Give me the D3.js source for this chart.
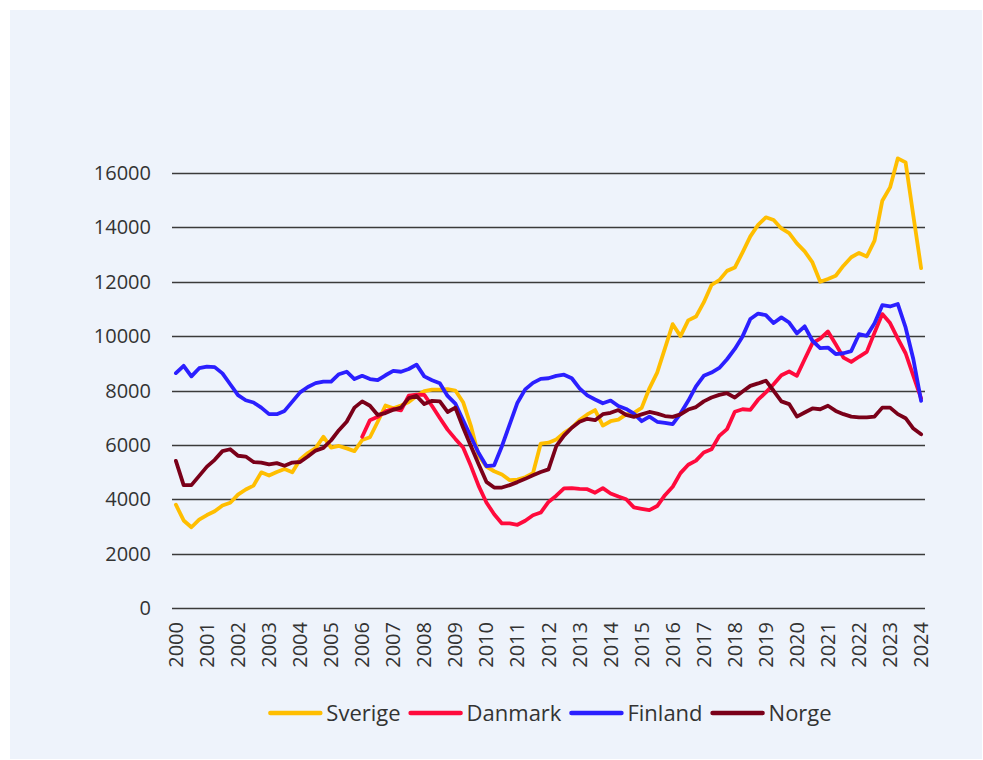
<!DOCTYPE html>
<html>
<head>
<meta charset="utf-8">
<script src="https://cdn.jsdelivr.net/npm/d3@7"></script>
<style>
body { margin: 0; background: #ffffff; }
svg text { font-family: "Open Sans", sans-serif; fill: #333333; }
</style>
</head>
<body>
<div id="chart"></div>
<script>
var svgWidth = 983;
var svgHeight = 760;

// quarterly, 2000Q1 .. 2024Q1
var yearLabels = ["2000","2001","2002","2003","2004","2005","2006","2007","2008","2009","2010","2011","2012",
	"2013","2014","2015","2016","2017","2018","2019","2020","2021","2022","2023","2024"]
var yTicks = [0, 2000, 4000, 6000, 8000, 10000, 12000, 14000, 16000]
var seriesNames = ["Sverige", "Danmark", "Finland", "Norge"]
var seriesColors = ["#ffbe00", "#ff0a3c", "#2b1fff", "#7a0019"]

var sverige = [3800,3220,2970,3250,3420,3560,3770,3870,4170,4360,
	4500,4990,4870,5000,5110,4990,5460,5700,5880,6300,
	5900,5960,5870,5770,6180,6280,6850,7450,7350,7450,
	7580,7800,7980,8030,8030,8050,8000,7570,6700,5600,
	5200,5030,4910,4700,4720,4810,4960,6050,6080,6200,
	6440,6630,6910,7120,7280,6710,6870,6930,7120,7180,
	7360,8080,8660,9550,10440,10000,10580,10720,11240,11880,
	12060,12400,12520,13080,13670,14090,14370,14270,13960,13790,
	13410,13120,12710,12000,12100,12220,12590,12900,13060,12930,
	13510,14980,15470,16540,16390,14430,12500]
var danmark = [null,null,null,null,null,null,null,null,null,null,
	null,null,null,null,null,null,null,null,null,null,
	null,null,null,null,6300,6910,7030,7230,7320,7270,
	7810,7850,7840,7430,6990,6560,6220,5900,5230,4490,
	3880,3450,3110,3110,3060,3210,3410,3510,3900,4130,
	4400,4410,4380,4370,4240,4410,4210,4100,4000,3700,
	3650,3600,3750,4150,4460,4960,5270,5420,5720,5840,
	6330,6580,7220,7310,7290,7660,7930,8230,8560,8700,
	8540,9150,9740,9910,10170,9700,9210,9050,9240,9420,
	10130,10810,10480,9910,9370,8540,7710]
var finland = [8640,8910,8520,8820,8880,8860,8630,8230,7830,7640,
	7560,7370,7130,7130,7250,7590,7930,8130,8270,8330,
	8330,8600,8690,8420,8540,8420,8380,8560,8720,8690,
	8790,8950,8520,8380,8270,7800,7520,6900,6300,5700,
	5220,5250,5950,6750,7550,8040,8280,8430,8450,8540,
	8580,8450,8080,7820,7670,7530,7630,7430,7320,7150,
	6870,7040,6850,6810,6760,7150,7620,8150,8540,8660,
	8830,9150,9530,9990,10630,10830,10770,10480,10690,10500,
	10100,10360,9830,9560,9580,9340,9370,9450,10070,10010,
	10470,11140,11090,11180,10320,9150,7620]
var norge = [5410,4520,4520,4860,5200,5450,5770,5840,5600,5570,
	5370,5350,5280,5330,5230,5350,5370,5570,5790,5890,
	6170,6540,6850,7370,7600,7440,7100,7170,7290,7370,
	7720,7800,7500,7620,7600,7210,7370,6640,5960,5290,
	4640,4430,4430,4520,4630,4750,4880,5000,5100,5950,
	6340,6630,6850,6960,6910,7130,7180,7280,7100,7030,
	7120,7210,7150,7060,7030,7120,7300,7390,7600,7740,
	7840,7900,7740,7960,8170,8260,8360,7990,7600,7500,
	7040,7190,7340,7310,7440,7250,7130,7040,7010,7010,
	7040,7370,7370,7130,6980,6600,6390]

var allSeries = [sverige, danmark, finland, norge]

var plotLeft = 172
var plotRight = 925
var plotTop = 173
var plotBottom = 608

var svg = d3.select("#chart")
	.append("svg")
	.attr("width", svgWidth)
	.attr("height", svgHeight)

svg.append("rect")
	.attr("x", 10)
	.attr("y", 10)
	.attr("width", 972)
	.attr("height", 749)
	.attr("fill", "#eef3fb")

var nPoints = sverige.length
var step = (plotRight - plotLeft) / nPoints
var x = d3.scaleLinear()
	.domain([0, nPoints - 1])
	.range([plotLeft + step / 2, plotRight - step / 2])

var y = d3.scaleLinear()
	.domain([0, 16000])
	.range([plotBottom, plotTop])

// gridlines
svg.append("g")
	.selectAll("line")
	.data(yTicks)
	.enter()
	.append("line")
	.attr("x1", plotLeft)
	.attr("x2", plotRight)
	.attr("y1", function(d){return Math.round(y(d)) + 0.5})
	.attr("y2", function(d){return Math.round(y(d)) + 0.5})
	.attr("stroke", "#3a3a3a")
	.attr("stroke-width", 1.3)

// y labels
svg.append("g")
	.selectAll("text")
	.data(yTicks)
	.enter()
	.append("text")
	.attr("x", 151)
	.attr("y", function(d){return y(d)})
	.attr("dy", "0.35em")
	.attr("text-anchor", "end")
	.style("font-size", "20px")
	.text(function(d){return d})

// x labels, one per year (every 4th quarter)
svg.append("g")
	.selectAll("text")
	.data(yearLabels)
	.enter()
	.append("text")
	.attr("transform", function(d, i){return "translate(" + x(i * 4) + ",622) rotate(-90)"})
	.attr("dy", "0.35em")
	.attr("text-anchor", "end")
	.style("font-size", "20px")
	.text(function(d){return d})

var line = d3.line()
	.defined(function(d){return d != null})
	.x(function(d, i){return x(i)})
	.y(function(d){return y(d)})

svg.append("g")
	.selectAll("path")
	.data(allSeries)
	.enter()
	.append("path")
	.attr("d", line)
	.attr("fill", "none")
	.attr("stroke", function(d, i){return seriesColors[i]})
	.attr("stroke-width", 3.8)
	.attr("stroke-linejoin", "round")
	.attr("stroke-linecap", "round")

// legend
var legend = svg.append("g")
var swatchW = 50
var legendX = 0
for (var i = 0; i < seriesNames.length; i++) {
	var g = legend.append("g")
	g.append("line")
		.attr("x1", 0)
		.attr("x2", swatchW)
		.attr("y1", 0)
		.attr("y2", 0)
		.attr("stroke", seriesColors[i])
		.attr("stroke-width", 4.5)
		.attr("stroke-linecap", "round")
	var t = g.append("text")
		.attr("x", swatchW + 6)
		.attr("dy", "0.35em")
		.style("font-size", "22px")
		.text(seriesNames[i])
	g.attr("transform", "translate(" + legendX + ",0)")
	legendX += swatchW + 6 + t.node().getComputedTextLength() + 10
}
legendX -= 10
legend.attr("transform", "translate(" + (551 - legendX / 2) + ",713)")
</script>
</body>
</html>
